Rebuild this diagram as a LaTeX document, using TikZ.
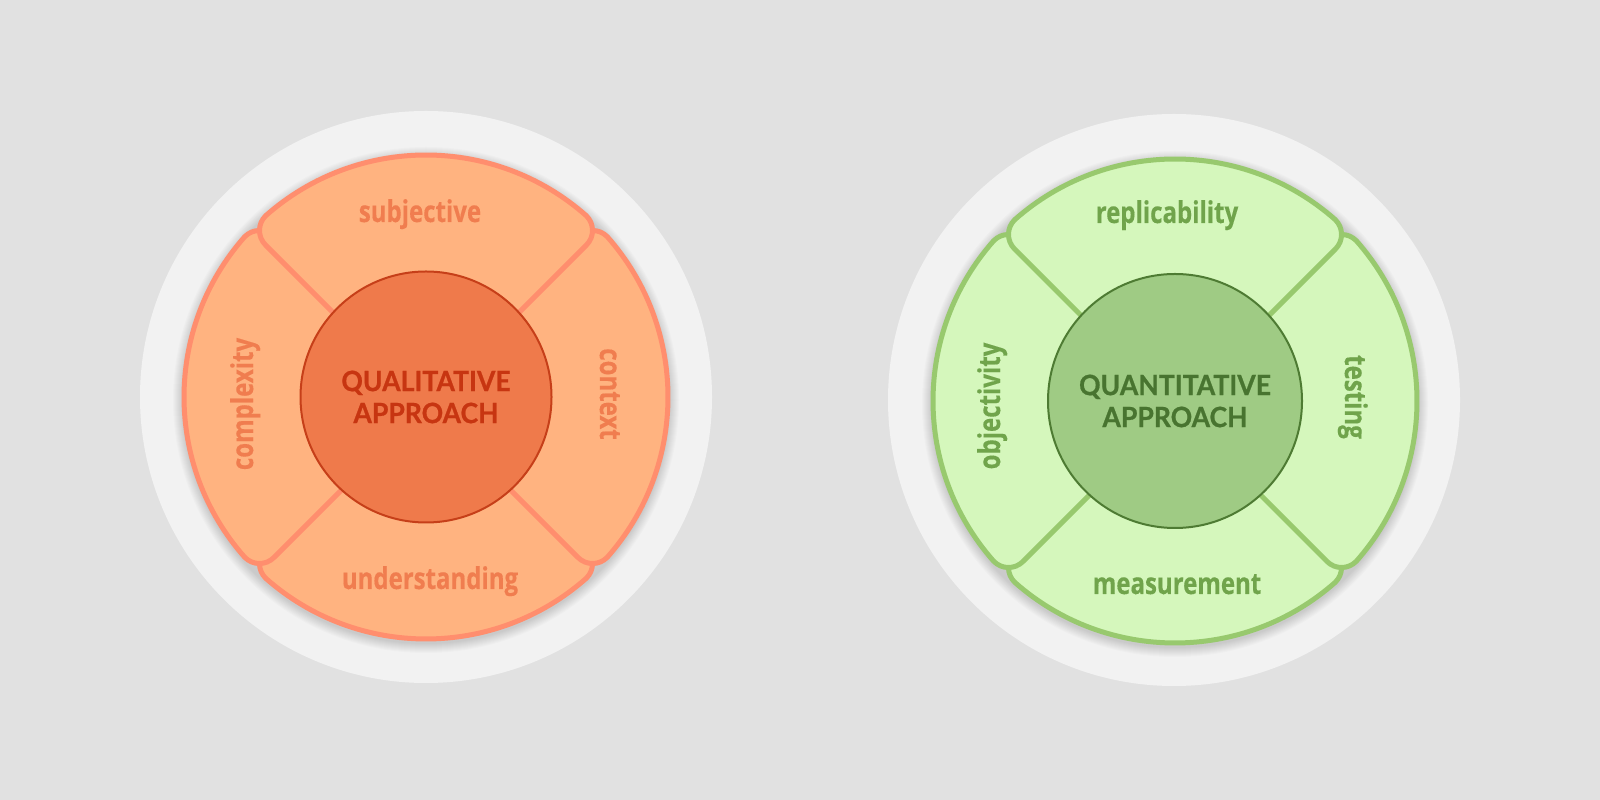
\documentclass[tikz,border=0pt]{standalone}
\usepackage{fontspec}
\usetikzlibrary{calc}
\newfontfamily\labelfont{Open Sans}[FakeStretch=0.8, BoldFeatures={FakeBold=0.3}]
\newfontfamily\centerfont{Lato}[FakeStretch=0.95, BoldFeatures={FakeBold=0.8}]
\definecolor{pagebg}{HTML}{E1E1E1}
\definecolor{discbg}{HTML}{F2F2F2}
\definecolor{orfill}{HTML}{FFB380}
\definecolor{orline}{HTML}{FF8E6E}
\definecolor{ortext}{HTML}{F07D4F}
\definecolor{orcfill}{HTML}{EF7A4B}
\definecolor{orcline}{HTML}{C63F19}
\definecolor{orctext}{HTML}{C73511}
\definecolor{grfill}{HTML}{D5F7BC}
\definecolor{grline}{HTML}{98C96E}
\definecolor{grtext}{HTML}{70A44B}
\definecolor{grcfill}{HTML}{9FCB84}
\definecolor{grcline}{HTML}{4E7B33}
\definecolor{grctext}{HTML}{487430}
\newcommand\pxRo{242}   % outer radius
\newcommand\pxri{80}    % inner radius (hidden)
\newcommand\pxe{6}      % offset of straight edges past the diagonal
\newcommand\pxea{1.42}  % atan(pxe/pxRo) in degrees
\newcommand\pxrad{21}   % corner rounding
\newcommand\pxrd{4.97}  % pxrad/pxRo in degrees
\newcommand\petal[2]{%
  \pgfmathsetmacro\pL{#1+45+\pxea}\pgfmathsetmacro\pLa{\pL-\pxrd}%
  \pgfmathsetmacro\pR{#1-45-\pxea}\pgfmathsetmacro\pRa{\pR+\pxrd}%
  \pgfmathsetmacro\uL{#1+45}\pgfmathsetmacro\uR{#1-45}%
  \pgfmathsetmacro\nL{#1+135}\pgfmathsetmacro\nR{#1-135}%
  \pgfmathsetmacro\bL{#1+225}\pgfmathsetmacro\bR{#1+135}%
  \coordinate (PL) at (\pL:\pxRo);
  \coordinate (AL) at (\pLa:\pxRo);
  \coordinate (BL) at ($(PL)+(\bL:\pxrad)$);
  \coordinate (IL) at ($(\uL:\pxri)+(\nL:\pxe)$);
  \coordinate (PR) at (\pR:\pxRo);
  \coordinate (AR) at (\pRa:\pxRo);
  \coordinate (BR) at ($(PR)+(\bR:\pxrad)$);
  \coordinate (IR) at ($(\uR:\pxri)+(\nR:\pxe)$);
  \path[#2] (IR) -- (BR)
    .. controls ($(BR)!0.552!(PR)$) and ($(AR)!0.552!(PR)$) .. (AR)
    arc[start angle=\pRa, end angle=\pLa, radius=\pxRo]
    .. controls ($(AL)!0.552!(PL)$) and ($(BL)!0.552!(PL)$) .. (BL)
    -- (IL) -- cycle;}
\newcommand\softshadow{%
  \foreach \k in {1,...,10} {\fill[black, opacity=0.014] (0,-3) circle ({\pxRo+1+\k});}}
\tikzset{
  petalbase/.style={line width=5pt, line join=round},
  lbl/.style={font=\labelfont\bfseries\fontsize{30}{34}\selectfont, inner sep=0pt},
  centre/.style={circle, inner sep=0pt, line width=2pt, align=center,
    font=\centerfont\bfseries\fontsize{28}{32}\selectfont},
  disc/.style={circle, fill=discbg, inner sep=0pt, minimum size=572},
}
\begin{document}
\begin{tikzpicture}[x=1pt, y=1pt]
\useasboundingbox (0,0) rectangle (1600,800);
\fill[pagebg] (0,0) rectangle (1600,800);
% left
\node[disc] (discL) at (426,403) {};
\begin{scope}[shift={(426,403)}]
  \softshadow
  \foreach \a in {270,180,0,90} {\petal{\a}{petalbase, fill=orfill, draw=orline}}
\end{scope}
\node[centre, fill=orcfill, draw=orcline, text=orctext, minimum size=251] (qual) at (426,403) {QUALITATIVE\\APPROACH};
\node[lbl, text=ortext, anchor=base] (subj) at (420,578) {subjective};
\node[lbl, text=ortext, anchor=base, rotate=90] (compl) at (253,396) {complexity};
\node[lbl, text=ortext, anchor=base, rotate=-90] (ctx) at (600,406) {context};
\node[lbl, text=ortext, anchor=base] (und) at (430,211) {understanding};
% right
\node[disc] (discR) at (1174,400) {};
\begin{scope}[shift={(1175,399)}]
  \softshadow
  \foreach \a in {270,180,0,90} {\petal{\a}{petalbase, fill=grfill, draw=grline}}
\end{scope}
\node[centre, fill=grcfill, draw=grcline, text=grctext, minimum size=254] (quant) at (1175,399) {QUANTITATIVE\\APPROACH};
\node[lbl, text=grtext, anchor=base] (repl) at (1167,577) {replicability};
\node[lbl, text=grtext, anchor=base, rotate=90] (obj) at (1000,394) {objectivity};
\node[lbl, text=grtext, anchor=base, rotate=-90] (test) at (1345,403) {testing};
\node[lbl, text=grtext, anchor=base] (meas) at (1177,206) {measurement};
\end{tikzpicture}
\end{document}
